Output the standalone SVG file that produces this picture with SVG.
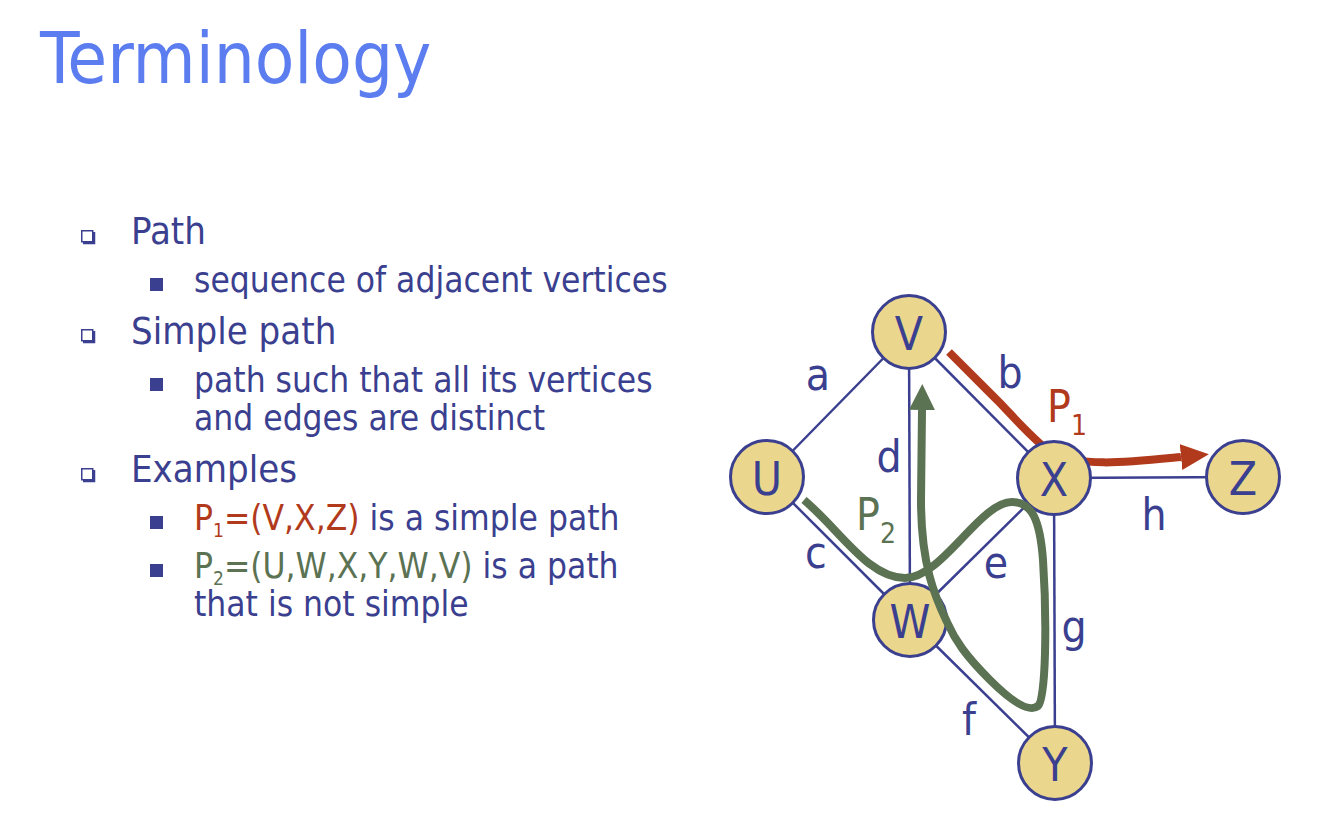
<svg xmlns="http://www.w3.org/2000/svg" width="1334" height="835" viewBox="0 0 1334 835">
<style>
  text { font-family: "DejaVu Sans Condensed", "DejaVu Sans", sans-serif; }
  .title { font-size: 72px; fill: #5b7df0; }
  .l1 { font-size: 38px; fill: #3b3f8f; }
  .l2 { font-size: 35px; fill: #3b3f8f; }
  .red { fill: #b23a1c; }
  .green { fill: #5b7253; }
  .sub { font-size: 19px; }
  .edge { stroke: #3b3f8f; stroke-width: 2.5; fill: none; }
  .node circle { fill: #ead68c; stroke: #3b3f8f; stroke-width: 3; }
  .node text { font-size: 46px; fill: #3b3f8f; text-anchor: middle; }
  .elabel { font-size: 44px; fill: #3b3f8f; text-anchor: middle; }
  .plabel { font-size: 44px; }
  .psub { font-size: 28px; }
  .bullet { fill: #3b3f8f; }
</style>
<defs>
  <g id="hollow">
    <rect x="0.75" y="0.75" width="11" height="11" fill="#ffffff" stroke="#3b3f8f" stroke-width="1.5"/>
    <polyline points="13,2 13,13 2,13" fill="none" stroke="#3b3f8f" stroke-width="2.5"/>
  </g>
  <marker id="arrowRed" viewBox="0 0 28 26" markerWidth="28" markerHeight="26" refX="0" refY="13" orient="auto" markerUnits="userSpaceOnUse">
    <path d="M0,0 L28,13 L0,26 z" fill="#b23a1c"/>
  </marker>
  <marker id="arrowGreen" viewBox="0 0 26 26" markerWidth="26" markerHeight="26" refX="0" refY="13" orient="auto" markerUnits="userSpaceOnUse">
    <path d="M0,0 L26,13 L0,26 z" fill="#5b7253"/>
  </marker>
</defs>
<rect width="1334" height="835" fill="#ffffff"/>

<text class="title" x="40" y="83">Terminology</text>

<g id="bullets">
  <use href="#hollow" x="81" y="230"/>
  <text class="l1" x="131" y="244">Path</text>
  <rect class="bullet" x="150" y="278" width="13" height="13"/>
  <text class="l2" x="194" y="292">sequence of adjacent vertices</text>

  <use href="#hollow" x="81" y="329"/>
  <text class="l1" x="131" y="344">Simple path</text>
  <rect class="bullet" x="150" y="378" width="13" height="13"/>
  <text class="l2" x="194" y="392">path such that all its vertices</text>
  <text class="l2" x="194" y="430">and edges are distinct</text>

  <use href="#hollow" x="81" y="468"/>
  <text class="l1" x="131" y="482">Examples</text>
  <rect class="bullet" x="150" y="516" width="13" height="13"/>
  <text class="l2" x="194" y="530"><tspan class="red">P</tspan><tspan class="red sub" dy="7">1</tspan><tspan class="red" dy="-7">=(V,X,Z)</tspan> is a simple path</text>
  <rect class="bullet" x="150" y="564" width="13" height="13"/>
  <text class="l2" x="194" y="578"><tspan class="green">P</tspan><tspan class="green sub" dy="7">2</tspan><tspan class="green" dy="-7">=(U,W,X,Y,W,V)</tspan> is a path</text>
  <text class="l2" x="194" y="616">that is not simple</text>
</g>

<g id="connectors">
  <line class="edge" x1="767" y1="477" x2="909" y2="332"/>
  <line class="edge" x1="909" y1="332" x2="1054" y2="478"/>
  <line class="edge" x1="767" y1="477" x2="910" y2="620"/>
  <line class="edge" x1="909" y1="332" x2="910" y2="620"/>
  <line class="edge" x1="910" y1="620" x2="1054" y2="478"/>
  <line class="edge" x1="910" y1="620" x2="1055" y2="763"/>
  <line class="edge" x1="1054" y1="478" x2="1055" y2="763"/>
  <line class="edge" x1="1054" y1="478" x2="1243" y2="477"/>
  <path id="P1-path" d="M949,352 C972,375 985,388 1000,403 C1018,422 1032,438 1050,452 C1080,468 1130,462 1181,457" fill="none" stroke="#b23a1c" stroke-width="8" marker-end="url(#arrowRed)"/>
</g>

<g id="edge-labels">
  <text class="elabel" x="818" y="390">a</text>
  <text class="elabel" x="1010" y="388">b</text>
  <text class="elabel" x="816" y="568">c</text>
  <text class="elabel" x="889" y="472">d</text>
  <text class="elabel" x="996" y="578">e</text>
  <text class="elabel" x="969" y="735">f</text>
  <text class="elabel" x="1074" y="642">g</text>
  <text class="elabel" x="1154" y="530">h</text>
  <text class="plabel red" x="1047" y="422">P<tspan class="psub" dy="13">1</tspan></text>
  <text class="plabel green" x="856" y="530">P<tspan class="psub" dy="13">2</tspan></text>
</g>

<g id="node-V" class="node"><circle cx="909" cy="332" r="36.5"/><text x="909" y="350">V</text></g>
<g id="node-U" class="node"><circle cx="767" cy="477" r="36.5"/><text x="767" y="495">U</text></g>
<g id="node-X" class="node"><circle cx="1054" cy="478" r="36.5"/><text x="1054" y="496">X</text></g>
<g id="node-Z" class="node"><circle cx="1243" cy="477" r="36.5"/><text x="1243" y="495">Z</text></g>
<g id="node-W" class="node"><circle cx="910" cy="620" r="36.5"/><text x="910" y="638">W</text></g>
<g id="node-Y" class="node"><circle cx="1055" cy="763" r="36.5"/><text x="1055" y="781">Y</text></g>

<g id="P2-connector">
  <path d="M804,500 C840,530 868,578 905,578 C942,578 980,502 1012,502 C1032,502 1040,520 1043,560 C1047,620 1046,700 1038,706 C1030,712 1015,705 990,680 C965,655 955,640 947,622 C935,597 921,565 921,500 L922,410" fill="none" stroke="#5b7253" stroke-width="8" stroke-linejoin="round" marker-end="url(#arrowGreen)"/>
</g>
</svg>
